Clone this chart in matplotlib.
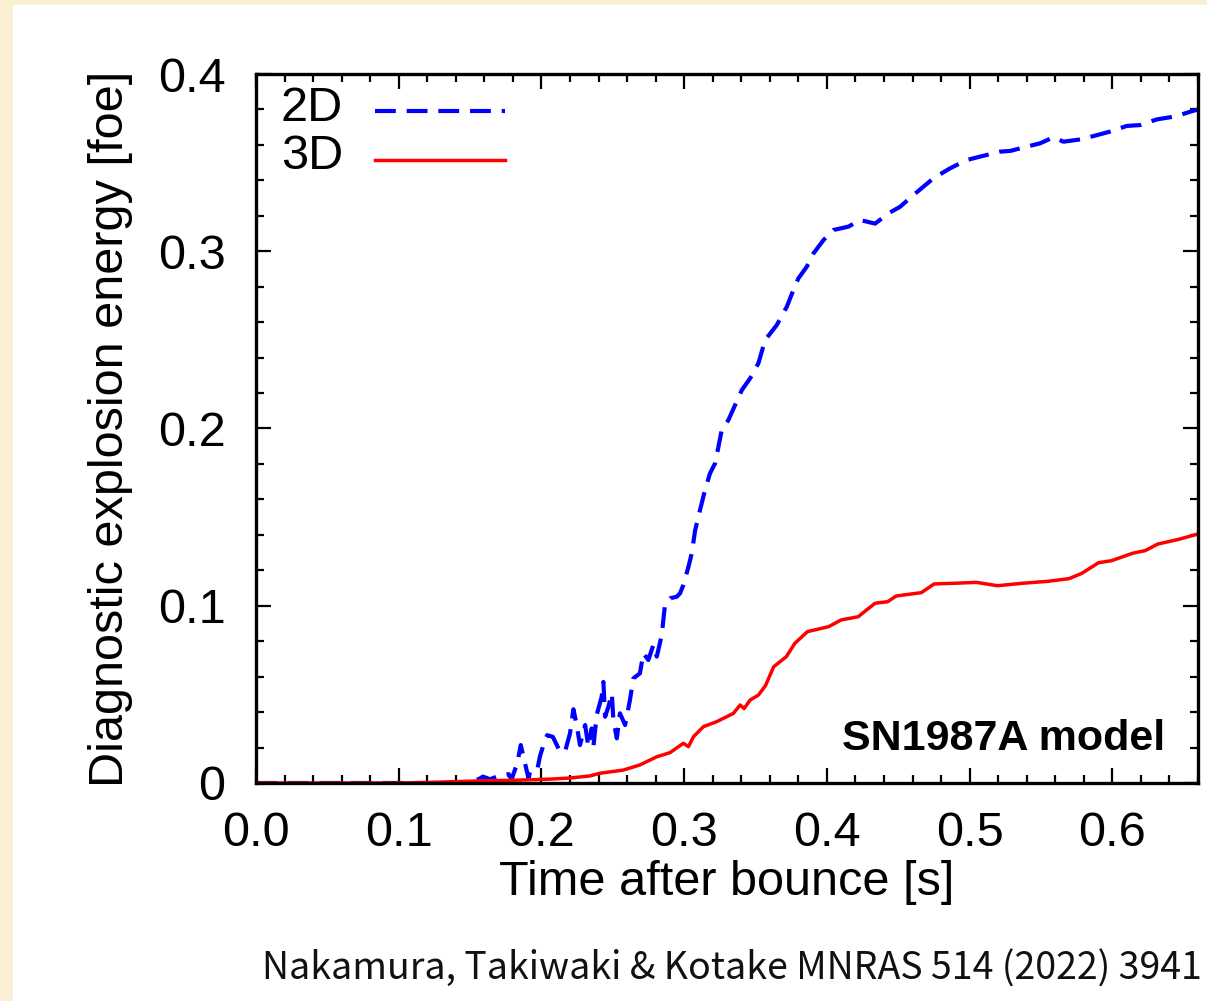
import numpy as np
import matplotlib
matplotlib.use("Agg")
import matplotlib.pyplot as plt
import matplotlib.patches as mpatches
from matplotlib.ticker import MultipleLocator, FuncFormatter

plt.rcParams['font.family'] = ['Liberation Sans', 'DejaVu Sans']

# 2D run: time after bounce [s], diagnostic explosion energy [foe]
t_2d = [0.0, 0.10, 0.150, 0.157, 0.159, 0.164, 0.170, 0.177, 0.179, 0.183,
        0.1855, 0.1885, 0.191, 0.192, 0.197, 0.199, 0.2025, 0.204, 0.208, 0.213,
        0.2165, 0.220, 0.2224, 0.2247, 0.227, 0.2306, 0.2329, 0.2352, 0.2364, 0.2387,
        0.2422, 0.2434, 0.2446, 0.2469, 0.2493, 0.2504, 0.2528, 0.255, 0.2586, 0.262,
        0.2644, 0.269, 0.2714, 0.2749, 0.2784, 0.2808, 0.2843, 0.2866, 0.2901, 0.2948,
        0.2971, 0.2994, 0.3030, 0.3053, 0.3077, 0.3111, 0.3146, 0.3181, 0.3217, 0.324,
        0.3263, 0.331, 0.3357, 0.3404, 0.3462, 0.352, 0.3567, 0.3649, 0.3719, 0.3765,
        0.380, 0.3859, 0.3906, 0.3976, 0.4046, 0.4151, 0.4233, 0.4338, 0.4431, 0.4513,
        0.4606, 0.4747, 0.4863, 0.498, 0.5074, 0.5214, 0.5284, 0.54, 0.5494, 0.5587,
        0.5657, 0.5774, 0.5868, 0.5984, 0.6101, 0.6195, 0.6312, 0.6428, 0.6475, 0.6545,
        0.66]
e_2d = [0.0, 0.0, 0.0, 0.0026, 0.0036, 0.0021, 0.004, 0.005, 0.002, 0.011,
        0.0214, 0.011, 0.0026, 0.0064, 0.0073, 0.0152, 0.0243, 0.027, 0.026, 0.0177,
        0.0177, 0.028, 0.0416, 0.0327, 0.0214, 0.0327, 0.0205, 0.0308, 0.0205, 0.0384,
        0.0487, 0.057, 0.0374, 0.043, 0.0506, 0.0355, 0.0252, 0.0393, 0.0327, 0.0468,
        0.059, 0.0619, 0.0732, 0.0694, 0.0779, 0.0713, 0.0835, 0.101, 0.1042, 0.1051,
        0.107, 0.1117, 0.122, 0.1296, 0.1427, 0.154, 0.1653, 0.1747, 0.1804, 0.1897,
        0.1992, 0.2048, 0.2133, 0.2217, 0.2283, 0.2368, 0.2499, 0.2584, 0.2687, 0.2781,
        0.2847, 0.2913, 0.2988, 0.3063, 0.312, 0.3139, 0.3176, 0.3156, 0.3214, 0.3251,
        0.3317, 0.3412, 0.3468, 0.3515, 0.3534, 0.3562, 0.3566, 0.359, 0.3609, 0.3643,
        0.3618, 0.3631, 0.365, 0.3675, 0.3707, 0.3712, 0.3744, 0.3759, 0.3769, 0.3787,
        0.380]

# 3D run
t_3d = [0.0, 0.10, 0.12, 0.14, 0.159, 0.183, 0.206, 0.22, 0.234, 0.241,
        0.2574, 0.269, 0.2808, 0.29, 0.2994, 0.303, 0.3065, 0.3135, 0.3228, 0.3345,
        0.3392, 0.342, 0.3462, 0.352, 0.357, 0.3627, 0.3716, 0.3775, 0.3864, 0.4012,
        0.41, 0.4219, 0.4337, 0.4426, 0.4485, 0.4662, 0.4751, 0.49, 0.5047, 0.5195,
        0.5372, 0.555, 0.5697, 0.5786, 0.5904, 0.5993, 0.6141, 0.623, 0.6318, 0.6466,
        0.66]
e_3d = [0.0, 0.0, 0.0003, 0.0008, 0.0012, 0.0016, 0.0022, 0.0028, 0.004, 0.0055,
        0.0073, 0.0102, 0.0148, 0.0171, 0.0224, 0.0205, 0.0261, 0.0318, 0.0346, 0.0393,
        0.044, 0.042, 0.0468, 0.0496, 0.055, 0.0656, 0.0713, 0.0788, 0.0854, 0.0882,
        0.092, 0.0938, 0.1014, 0.1023, 0.1055, 0.1074, 0.1123, 0.1127, 0.1132, 0.1113,
        0.1127, 0.1138, 0.1153, 0.1183, 0.1243, 0.1254, 0.1296, 0.1311, 0.1348, 0.1375,
        0.1405]

fig = plt.figure(figsize=(12.07, 10.01), dpi=100)
fig.patch.set_facecolor('#fbefd3')
# white page on the parchment
fig.add_artist(mpatches.Rectangle((13 / 1207, 0), 1, 1 - 5 / 1001,
                                  transform=fig.transFigure, color='white', zorder=0))

ax = fig.add_axes([256 / 1207, 1 - 783 / 1001, 942 / 1207, 709 / 1001])
ax.set_facecolor('white')

ax.plot(t_2d, e_2d, color='#0000ff', lw=3, dashes=(5, 2.6), solid_capstyle='butt')
ax.plot(t_3d, e_3d, color='#ff0000', lw=2.5)

ax.set_xlim(0, 0.66)
ax.set_ylim(0, 0.4)
ax.xaxis.set_major_locator(MultipleLocator(0.1))
ax.xaxis.set_minor_locator(MultipleLocator(0.02))
ax.yaxis.set_major_locator(MultipleLocator(0.1))
ax.yaxis.set_minor_locator(MultipleLocator(0.02))
ax.xaxis.set_major_formatter(FuncFormatter(lambda v, p: f'{v:.1f}'))
ax.yaxis.set_major_formatter(FuncFormatter(lambda v, p: '0' if abs(v) < 1e-9 else f'{v:.1f}'))

ax.tick_params(which='both', direction='in', top=True, right=True, width=1.6, labelsize=35)
ax.tick_params(which='major', length=11)
ax.tick_params(which='minor', length=6)
ax.tick_params(axis='x', pad=20)
ax.tick_params(axis='y', pad=22)
for s in ax.spines.values():
    s.set_linewidth(2.4)

ax.set_xlabel('Time after bounce [s]', fontsize=35, labelpad=3)
ax.set_ylabel('Diagnostic explosion energy [foe]', fontsize=35, labelpad=18)

# key
ax.text(0.0924, 0.952, '2D', fontsize=35, ha='right', va='center', transform=ax.transAxes)
ax.text(0.0924, 0.883, '3D', fontsize=35, ha='right', va='center', transform=ax.transAxes)
ax.plot([0.1263, 0.2643], [0.948, 0.948], color='#0000ff', lw=3, dashes=(5, 2.6),
        solid_capstyle='butt', transform=ax.transAxes)
ax.plot([0.1263, 0.2643], [0.879, 0.879], color='#ff0000', lw=2.5, transform=ax.transAxes)

ax.text(0.965, 0.0465, 'SN1987A model', fontsize=31, fontweight='bold',
        ha='right', va='baseline', transform=ax.transAxes)

fig.text(262 / 1207, 1 - 980 / 1001, 'Nakamura, Takiwaki & Kotake MNRAS 514 (2022) 3941',
         fontsize=27, family=['Noto Sans CJK JP', 'DejaVu Sans'], ha='left', va='baseline',
         color='#111111')

fig.savefig('out.png', dpi=100, facecolor=fig.get_facecolor())
